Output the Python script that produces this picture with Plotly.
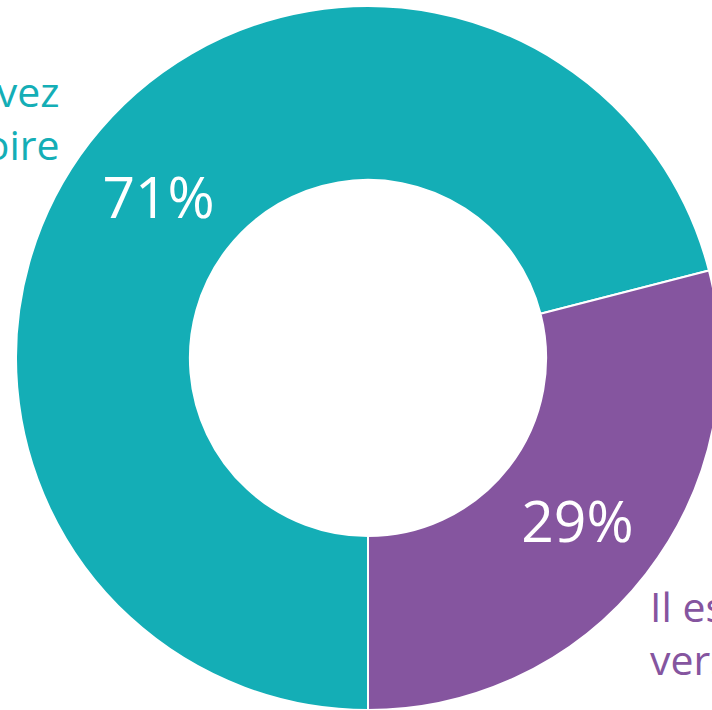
import plotly.graph_objects as go

labels = ["Vous l'avez en mémoire", "Il est vers"]
values = [71, 29]
colors = ["#14AEB6", "#85559F"]

W, H = 736, 716

fig = go.Figure()
fig.add_trace(go.Pie(
    labels=labels,
    values=values,
    hole=0.506,
    sort=False,
    direction="clockwise",
    rotation=180,
    marker=dict(colors=colors, line=dict(color="white", width=2)),
    texttemplate="%{percent:.0%}",
    textposition="inside",
    insidetextorientation="horizontal",
    textfont=dict(family="Open Sans", size=57, color="white"),
    domain=dict(x=[16 / W, 720 / W], y=[6 / H, 710 / H]),
    showlegend=False,
    hoverinfo="label+percent",
))

# outer labels run off the edge of the canvas, as in the source
fig.add_annotation(
    text="Vous l'avez<br>en mémoire", x=62 / W, y=1 - 117 / H,
    xref="paper", yref="paper", xanchor="right", yanchor="middle",
    align="right", showarrow=False,
    font=dict(family="Open Sans", size=41, color=colors[0]),
)
fig.add_annotation(
    text="Il est<br>vers", x=648 / W, y=1 - 632 / H,
    xref="paper", yref="paper", xanchor="left", yanchor="middle",
    align="left", showarrow=False,
    font=dict(family="Open Sans", size=41, color=colors[1]),
)

fig.update_layout(
    width=W, height=H,
    margin=dict(l=0, r=0, t=0, b=0),
    paper_bgcolor="white",
    plot_bgcolor="white",
)

fig.write_html(
    "out.html",
    config={"displayModeBar": False},
    post_script="document.body.style.margin='0';document.body.style.overflow='hidden';",
)
